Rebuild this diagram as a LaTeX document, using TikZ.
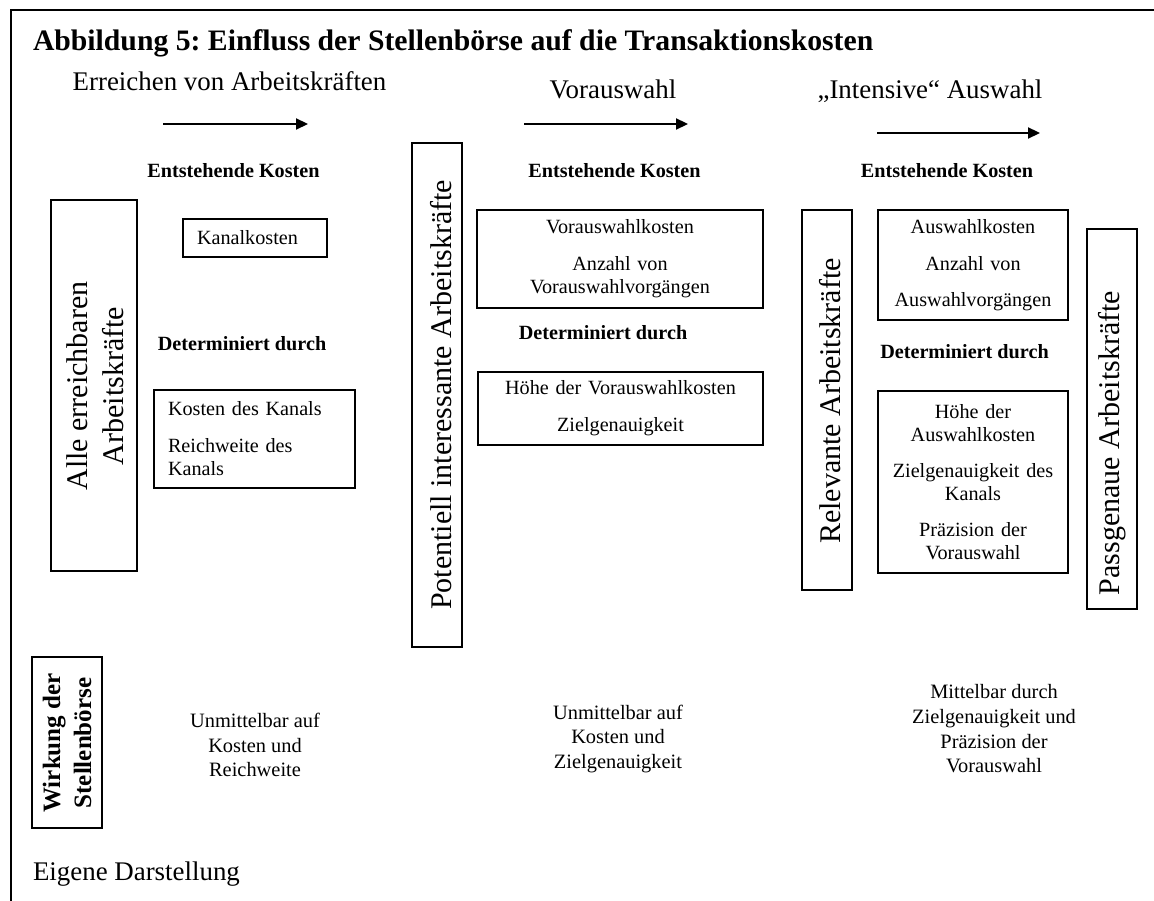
\documentclass[tikz,border=0pt]{standalone}
\usepackage{fontspec}
\setmainfont{Liberation Serif}
\usetikzlibrary{arrows.meta}
\frenchspacing
% font sizes (1pt = one unit of the picture)
\newcommand\fsBody{\fontsize{20.2}{23}\selectfont}
\newcommand\fsLow{\fontsize{20.4}{24.7}\selectfont}
\newcommand\fsBold{\fontsize{20.2}{23}\selectfont\bfseries}
\newcommand\fsHead{\fontsize{26.9}{31}\selectfont}
\newcommand\fsTitle{\fontsize{29.7}{34}\selectfont\bfseries}
\newcommand\fsVert{\fontsize{30}{36}\selectfont}
\newcommand\fsWirk{\fontsize{25}{31}\selectfont\bfseries}
\begin{document}
\begin{tikzpicture}[x=1pt, y=-1pt,
  every node/.style={inner sep=0pt, outer sep=0pt},
  frame/.style={line width=1.6pt},
  box/.style={draw, line width=1.3pt},
  txtbox/.style={box, font=\fsBody, align=center},
  lbox/.style={box, font=\fsBody, align=left, inner xsep=14pt},
  vtext/.style={rotate=90, anchor=base, font=\fsVert},
  head/.style={anchor=base, font=\fsHead},
  sub/.style={anchor=base, font=\fsBold},
  low/.style={font=\fsLow, align=center},
  arr/.style={line width=2.2pt, -{Triangle[length=12pt, width=11pt]}}
]
\useasboundingbox (0,0) rectangle (1154,901);

% frame lines along the top and the left edge
\coordinate (fr) at (1154,10);
\coordinate (fc) at (11,10);
\coordinate (fb) at (11,901);
\draw[frame] (fr) -- (fc) -- (fb);

% title and stage headings
\node[anchor=base west, font=\fsTitle] (title) at (33,51)
  {Abbildung 5: Einfluss der Stellenbörse auf die Transaktionskosten};
\node[head] (h1) at (229.5,91) {Erreichen von Arbeitskräften};
\node[head] (h2) at (613,99) {Vorauswahl};
\node[head] (h3) at (930,99) {„Intensive“ Auswahl};

% stage arrows
\coordinate (a1s) at (163,124); \coordinate (a1e) at (308,124);
\coordinate (a2s) at (524,124); \coordinate (a2e) at (688,124);
\coordinate (a3s) at (877,133); \coordinate (a3e) at (1040,133);
\draw[arr] (a1s) -- (a1e);
\draw[arr] (a2s) -- (a2e);
\draw[arr] (a3s) -- (a3e);

% sub headings
\node[sub] (ek1) at (233.5,178) {Entstehende Kosten};
\node[sub] (ek2) at (614.5,178) {Entstehende Kosten};
\node[sub] (ek3) at (947,178) {Entstehende Kosten};
\node[sub] (dd1) at (242,350) {Determiniert durch};
\node[sub] (dd2) at (603,340) {Determiniert durch};
\node[sub] (dd3) at (964.5,359) {Determiniert durch};

% tall boxes with the groups of workers
\node[box, minimum width=86, minimum height=371] (alle) at (94,385.5) {};
\node[font=\fsVert, align=center, rotate=90] (talle) at (95.5,386)
  {Alle erreichbaren\\Arbeitskräfte};
\node[box, minimum width=50, minimum height=504] (pot) at (437,395) {};
\node[vtext] (tpot) at (451,395) {Potentiell interessante Arbeitskräfte};
\node[box, minimum width=50, minimum height=380] (rel) at (827,400) {};
\node[vtext] (trel) at (840,401) {Relevante Arbeitskräfte};
\node[box, minimum width=50, minimum height=380] (pass) at (1112,419) {};
\node[vtext] (tpass) at (1119,443) {Passgenaue Arbeitskräfte};

% cost boxes
\node[lbox, minimum width=144, minimum height=38, text width=116] (kk) at (255,238)
  {Kanalkosten};
\node[lbox, minimum width=201, minimum height=98, text width=173] (kdk) at (254.5,439)
  {Kosten des Kanals\\[14pt]Reichweite des\\Kanals};
\node[txtbox, minimum width=286, minimum height=98, text width=270] (vak) at (620,259)
  {Vorauswahlkosten\\[14pt]Anzahl von\\Vorauswahlvorgängen};
\node[txtbox, minimum width=285, minimum height=73, text width=270] (hvk) at (620.5,408.5)
  {Höhe der Vorauswahlkosten\\[14pt]Zielgenauigkeit};
\node[txtbox, minimum width=190, minimum height=110, text width=176] (awk) at (973,265)
  {Auswahlkosten\\[14pt]Anzahl von\\[13pt]Auswahlvorgängen};
\node[txtbox, minimum width=190, minimum height=182, text width=176] (hak) at (973,482)
  {Höhe der\\Auswahlkosten\\[13pt]Zielgenauigkeit des\\Kanals\\[13pt]Präzision der\\Vorauswahl};

% effect of the job board
\node[box, minimum width=70, minimum height=171] (wirk) at (67,742.5) {};
\node[font=\fsWirk, align=center, rotate=90] (twirk) at (67,743)
  {Wirkung der\\Stellenbörse};
\node[low] (w1) at (255,745) {Unmittelbar auf\\Kosten und\\Reichweite};
\node[low] (w2) at (618,739) {Unmittelbar auf\\Kosten und\\Zielgenauigkeit};
\node[low] (w3) at (994,729) {Mittelbar durch\\Zielgenauigkeit und\\Präzision der\\Vorauswahl};

% source
\node[anchor=base west, font=\fsHead] (src) at (33,880) {Eigene Darstellung};
\end{tikzpicture}
\end{document}
